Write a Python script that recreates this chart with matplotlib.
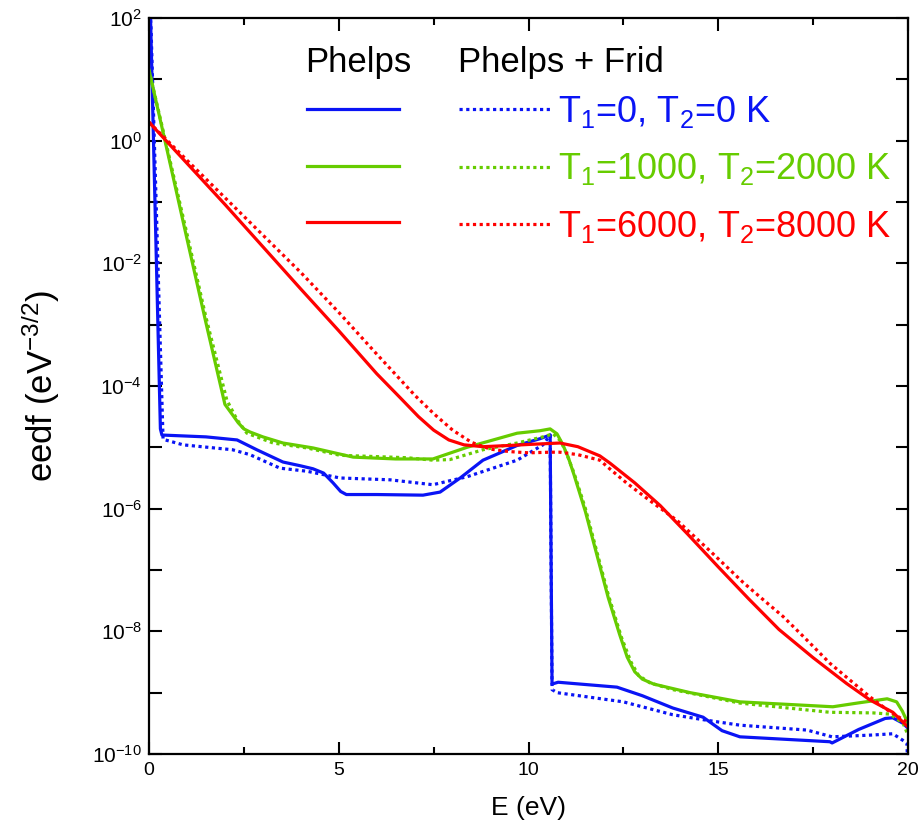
import numpy as np
import matplotlib
matplotlib.use("Agg")
import matplotlib.pyplot as plt
from matplotlib.ticker import LogLocator, MultipleLocator, NullFormatter

plt.rcParams['font.family'] = ['Liberation Sans', 'DejaVu Sans']
plt.rcParams['mathtext.fontset'] = 'custom'
plt.rcParams['mathtext.rm'] = 'Liberation Sans'
plt.rcParams['mathtext.it'] = 'Liberation Sans:italic'
plt.rcParams['mathtext.bf'] = 'Liberation Sans:bold'

# energies (eV) and log10(eedf)
# T1=0, T2=0 K
e_blue = [0, 0.04, 0.30, 0.34, 1.5, 2.32, 2.84, 3.53, 3.98, 4.32, 4.6, 4.85, 5.05, 5.2, 6.0, 7.22, 7.67,
          8.2, 8.8, 9.7, 10.3, 10.57, 10.62, 10.78, 12.33, 13.0, 13.8, 14.6, 15.1, 15.57, 17.94, 18.0,
          18.7, 19.4, 19.6, 19.87, 20.0]
lg_blue = [2.3, 2.0, -4.70, -4.80, -4.83, -4.88, -5.04, -5.24, -5.30, -5.35, -5.42, -5.58, -5.72, -5.77, -5.77, -5.78, -5.73,
           -5.50, -5.21, -4.97, -4.86, -4.80, -8.86, -8.83, -8.91, -9.05, -9.25, -9.40, -9.62, -9.72, -9.80, -9.82,
           -9.60, -9.42, -9.41, -9.50, -9.58]
e_blue_f = [0, 0.05, 0.37, 0.9, 2.2, 2.66, 3.45, 4.16, 5.03, 6.35, 7.48, 8.38, 9.7, 10.38, 10.57, 10.62,
            10.75, 12.5, 13.8, 14.7, 15.57, 17.34, 18.0, 19.08, 19.6, 19.97, 20.0]
lg_blue_f = [2.3, 1.9, -4.87, -4.96, -5.04, -5.12, -5.34, -5.39, -5.5, -5.53, -5.61, -5.48, -5.21, -4.96, -4.80, -8.95,
             -9.0, -9.15, -9.36, -9.45, -9.53, -9.61, -9.72, -9.69, -9.67, -9.82, -10.3]

# T1=1000, T2=2000 K
e_green = [0, 0.5, 1.0, 1.5, 2.0, 2.2, 2.35, 2.5, 2.66, 3.0, 3.53, 4.32, 5.38, 6.5, 7.48, 8.38, 9.7, 10.3,
           10.57, 10.75, 10.9, 11.05, 11.2, 11.5, 11.8, 12.1, 12.4, 12.6, 12.8, 13.0, 13.3, 14.26, 15.57,
           18.02, 18.66, 19.45, 19.7, 19.85, 20.0]
lg_green = [1.15, -0.22, -1.60, -2.97, -4.30, -4.47, -4.60, -4.70, -4.75, -4.83, -4.93, -5.01, -5.16, -5.19, -5.19, -5.0, -4.77, -4.73,
            -4.70, -4.78, -4.95, -5.17, -5.45, -6.05, -6.75, -7.45, -8.05, -8.42, -8.66, -8.78, -8.86, -9.0, -9.15,
            -9.23, -9.17, -9.10, -9.15, -9.3, -9.5]
e_green_f = [0, 0.5, 1.0, 1.5, 2.05, 2.32, 2.58, 3.27, 4.16, 5.03, 6.8, 7.48, 7.93, 8.8, 9.7, 10.38, 10.65,
             10.85, 11.0, 11.2, 11.5, 11.8, 12.1, 12.45, 12.7, 12.9, 13.2, 13.8, 15.57, 17.94, 19.08, 19.53, 19.87, 20.0]
lg_green_f = [1.15, -0.18, -1.52, -2.88, -4.23, -4.55, -4.77, -4.93, -5.01, -5.13, -5.17, -5.21, -5.20, -5.04, -4.93, -4.83, -4.78,
              -4.90, -5.10, -5.42, -6.0, -6.7, -7.4, -8.1, -8.5, -8.72, -8.84, -8.95, -9.17, -9.32, -9.33, -9.35, -9.5, -9.69]

# T1=6000, T2=8000 K
e_red = [0, 1.0, 2.0, 3.0, 4.0, 5.0, 6.0, 6.6, 7.1, 7.5, 7.9, 8.3, 8.8, 9.5, 10.12, 10.83, 11.3, 11.88,
         12.15, 12.8, 13.47, 14.2, 15.0, 15.8, 16.6, 17.5, 18.38, 19.0, 19.6, 20.0]
lg_red = [0.30, -0.37, -1.04, -1.73, -2.42, -3.10, -3.80, -4.18, -4.50, -4.72, -4.88, -4.96, -4.99, -4.97, -4.95, -4.93, -4.99, -5.14,
          -5.26, -5.58, -5.95, -6.42, -6.95, -7.47, -7.97, -8.43, -8.85, -9.12, -9.32, -9.56]
e_red_f = [0, 1.0, 2.0, 3.0, 4.0, 5.0, 6.0, 7.0, 7.5, 8.0, 8.5, 9.0, 9.5, 10.0, 10.57, 10.83,
           11.3, 11.88, 12.1, 12.6, 13.2, 13.91, 14.8, 15.65, 16.1, 16.71, 17.3, 17.94, 19.0, 19.45, 20.0]
lg_red_f = [0.30, -0.32, -0.93, -1.54, -2.15, -2.80, -3.48, -4.15, -4.45, -4.72, -4.92, -5.03, -5.07, -5.09, -5.08, -5.08,
            -5.12, -5.21, -5.33, -5.59, -5.87, -6.19, -6.7, -7.2, -7.44, -7.76, -8.12, -8.52, -9.07, -9.28, -9.49]

labels = [r'T$_1$=0, T$_2$=0 K', r'T$_1$=1000, T$_2$=2000 K', r'T$_1$=6000, T$_2$=8000 K']
colors = ['#0A14F5', '#66CC00', '#FF0000']

fig = plt.figure(figsize=(9.21, 8.32), dpi=100)
ax = fig.add_axes([0.1618, 0.09375, 0.8241, 0.8847])

solid = []
dotted = []
for (e1, l1, e2, l2), c in zip([(e_blue, lg_blue, e_blue_f, lg_blue_f),
                                 (e_green, lg_green, e_green_f, lg_green_f),
                                 (e_red, lg_red, e_red_f, lg_red_f)], colors):
    s, = ax.plot(e1, 10.0 ** np.array(l1), color=c, lw=2.3)
    d, = ax.plot(e2, 10.0 ** np.array(l2), color=c, lw=2.3, ls=(0, (1, 1.1)))
    solid.append(s)
    dotted.append(d)

ax.set_yscale('log')
ax.set_xlim(0, 20)
ax.set_ylim(1e-10, 1e2)
ax.xaxis.set_major_locator(MultipleLocator(5))
ax.xaxis.set_minor_locator(MultipleLocator(2.5))
ax.yaxis.set_major_locator(LogLocator(base=100, numticks=20))
ax.yaxis.set_minor_locator(LogLocator(base=10, subs=[1.0], numticks=30))
ax.yaxis.set_minor_formatter(NullFormatter())
ax.tick_params(which='both', direction='in', top=True, right=True, width=1.5)
ax.tick_params(which='major', length=9, pad=6)
ax.tick_params(axis='x', which='major', labelsize=14)
ax.tick_params(axis='y', which='major', labelsize=15, pad=5)
ax.tick_params(axis='y', which='minor', length=9)
ax.tick_params(axis='x', which='minor', length=5)
for sp in ax.spines.values():
    sp.set_linewidth(1.6)

ax.set_xlabel('E (eV)', fontsize=19, labelpad=12)
ax.set_ylabel(r'eedf (eV$^{-3/2}$)', fontsize=25)
ax.yaxis.set_label_coords(-0.115, 0.5)

ax.text(0.2055, 0.9266, 'Phelps', fontsize=25, transform=ax.transAxes, va='baseline')
ax.text(0.407, 0.9266, 'Phelps + Frid', fontsize=25, transform=ax.transAxes, va='baseline')
ax.legend(solid + dotted, [''] * 3 + labels, ncol=2, loc='upper left',
          bbox_to_anchor=(0.208, 0.897), frameon=False, fontsize=26,
          handlelength=2.55, handletextpad=0.2, columnspacing=1.45,
          labelspacing=0.6, borderpad=0, borderaxespad=0, labelcolor='linecolor')

fig.savefig('out.png', dpi=100)
